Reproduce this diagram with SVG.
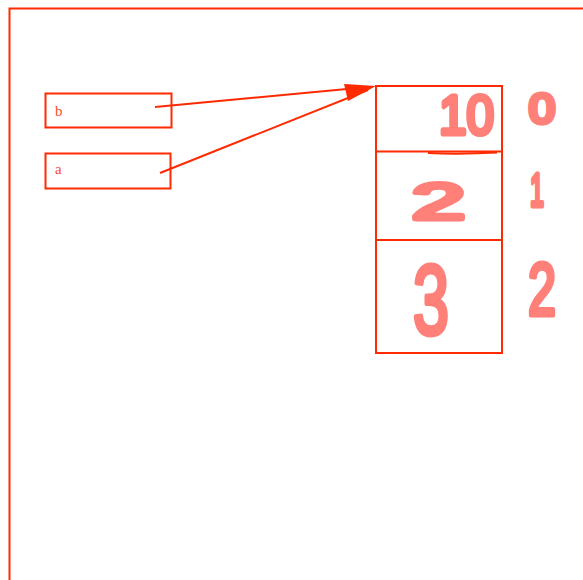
<svg xmlns="http://www.w3.org/2000/svg" width="583" height="580" viewBox="0 0 583 580">
<style>
.frame{fill:none;stroke:#ff2a00;stroke-width:2}
.lbl{font-family:"Liberation Serif",serif;font-size:15px;fill:#ff4a2a}
.hand{font-family:"Liberation Sans",sans-serif;fill:#ff8078;stroke:#ff8078;stroke-width:5;stroke-linejoin:round;stroke-linecap:round}
.conn{stroke:#ff2a00;stroke-width:2;fill:none}
</style>
<rect width="583" height="580" fill="#fff"/>
<rect class="frame" x="9.5" y="8.5" width="600" height="600"/>
<g id="node-b">
<rect class="frame" x="45.5" y="93.5" width="126" height="34"/>
<text class="lbl" x="55" y="116">b</text>
</g>
<g id="node-a">
<rect class="frame" x="45.5" y="153.5" width="125" height="35"/>
<text class="lbl" x="55" y="174">a</text>
</g>
<g id="array">
<rect class="frame" x="376" y="86" width="126" height="267"/>
<line class="conn" x1="376" y1="151.5" x2="502" y2="151.5"/>
<path class="conn" d="M428,153 Q460,154.5 497,152.5"/>
<line class="conn" x1="376" y1="240" x2="502" y2="240"/>
<text class="hand" x="439" y="134" font-size="56" textLength="55" lengthAdjust="spacingAndGlyphs">10</text>
<text class="hand" x="412" y="219" font-size="50" textLength="53" lengthAdjust="spacingAndGlyphs">2</text>
<text class="hand" x="413" y="334" font-size="98" textLength="36" lengthAdjust="spacingAndGlyphs">3</text>
<text class="hand" x="529" y="123" font-size="42" textLength="26" lengthAdjust="spacingAndGlyphs">0</text>
<text class="hand" x="530" y="206" font-size="47" textLength="14" lengthAdjust="spacingAndGlyphs">1</text>
<text class="hand" x="528" y="315" font-size="74" textLength="28" lengthAdjust="spacingAndGlyphs">2</text>
</g>
<g id="connectors">
<line class="conn" x1="155" y1="107" x2="368" y2="87"/>
<line class="conn" x1="160" y1="173" x2="368" y2="90"/>
<path d="M344,84 L376,86 L348,101 z" fill="#ff2a00"/>
</g>
</svg>
